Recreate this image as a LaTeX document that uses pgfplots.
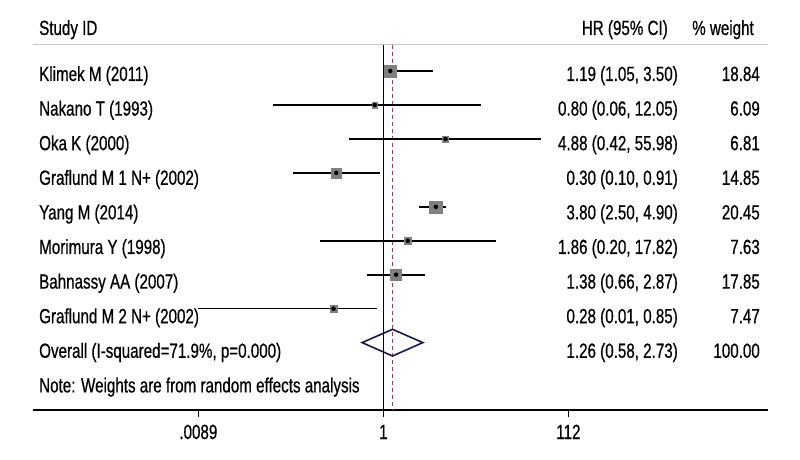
\documentclass[border=0pt]{standalone}
\usepackage{pgfplots}
\pgfplotsset{compat=1.18}
\usepackage{fontspec}
\setmainfont{Liberation Sans}[FakeStretch=0.74, FakeBold=0.6]
\definecolor{boxgray}{RGB}{128,128,128}
\definecolor{refred}{RGB}{150,65,85}
\definecolor{navy}{RGB}{20,25,80}
\definecolor{hdrgray}{RGB}{200,200,200}
\begin{document}
\fontsize{20.5pt}{24pt}\selectfont
\begin{tikzpicture}[x=1pt,y=1pt]
\useasboundingbox (0,0) rectangle (800,460);
\begin{axis}[
  at={(33pt,50pt)}, anchor=south west,
  scale only axis, width=735pt, height=365pt,
  xmode=log, xmin=1.31e-4, xmax=18215,
  ymin=45, ymax=410, y dir=reverse,
  axis x line=bottom, axis y line=none,
  axis line style={line width=1.8pt, -},
  xtick={0.0089,1,112}, xticklabels={.0089,1,112},
  xtick align=outside, major tick length=7pt,
  tick style={line width=1.4pt, black},
  xticklabel style={anchor=base, yshift=-22pt},
  ytick=\empty,
  clip=false,
  /pgf/number format/assume math mode=true,
]
% header rule
\addplot[hdrgray, line width=1pt] coordinates {(1.31e-4,45) (18215,45)};
% null line and overall line
\addplot[black, line width=1.4pt] coordinates {(1,45) (1,410)};
\addplot[refred, line width=1pt, dash pattern=on 4pt off 3pt] coordinates {(1.26,45) (1.26,410)};
% confidence intervals
\addplot[black, line width=1.6pt, unbounded coords=jump] coordinates {
(1.05,71) (3.50,71)
(nan,nan)
(0.06,104.95) (12.05,104.95)
(nan,nan)
(0.42,138.9) (55.98,138.9)
(nan,nan)
(0.10,172.85) (0.91,172.85)
(nan,nan)
(2.50,206.8) (4.90,206.8)
(nan,nan)
(0.20,240.75) (17.82,240.75)
(nan,nan)
(0.66,274.7) (2.87,274.7)
(nan,nan)
(0.0089,308.65) (0.85,308.65)
};
% weight boxes
\addplot[only marks, mark=square*, mark size=5.9, color=boxgray, mark options={draw=none, fill=boxgray}] coordinates {(1.19,71)};
\addplot[only marks, mark=square*, mark size=2.9, color=boxgray, mark options={draw=none, fill=boxgray}] coordinates {(0.80,104.95)};
\addplot[only marks, mark=square*, mark size=3.1, color=boxgray, mark options={draw=none, fill=boxgray}] coordinates {(4.88,138.9)};
\addplot[only marks, mark=square*, mark size=5.1, color=boxgray, mark options={draw=none, fill=boxgray}] coordinates {(0.30,172.85)};
\addplot[only marks, mark=square*, mark size=6.1, color=boxgray, mark options={draw=none, fill=boxgray}] coordinates {(3.80,206.8)};
\addplot[only marks, mark=square*, mark size=3.7, color=boxgray, mark options={draw=none, fill=boxgray}] coordinates {(1.86,240.75)};
\addplot[only marks, mark=square*, mark size=5.6, color=boxgray, mark options={draw=none, fill=boxgray}] coordinates {(1.38,274.7)};
\addplot[only marks, mark=square*, mark size=3.6, color=boxgray, mark options={draw=none, fill=boxgray}] coordinates {(0.28,308.65)};
% point estimates
\addplot[only marks, mark=*, mark size=2, black] coordinates {
(1.19,71) (0.80,104.95) (4.88,138.9) (0.30,172.85) (3.80,206.8) (1.86,240.75) (1.38,274.7) (0.28,308.65)};
% overall diamond
\addplot[navy, line width=1.6pt, line join=miter] coordinates {
(0.58,342.6) (1.26,329.3) (2.73,342.6) (1.26,356) (0.58,342.6) (1.26,329.3)};
\end{axis}
% text columns
\node[anchor=base west, inner sep=0] at (39,425) {Study ID};
\node[anchor=base east, inner sep=0] at (668,425) {HR (95\% CI)};
\node[anchor=base east, inner sep=0] at (754,425) {\% weight};
\foreach \y/\a/\b/\c in {
379/{Klimek M (2011)}/{1.19 (1.05, 3.50)}/18.84,
344.4/{Nakano T (1993)}/{0.80 (0.06, 12.05)}/6.09,
309.8/{Oka K (2000)}/{4.88 (0.42, 55.98)}/6.81,
275.2/{Graflund M 1 N+ (2002)}/{0.30 (0.10, 0.91)}/14.85,
240.6/{Yang M (2014)}/{3.80 (2.50, 4.90)}/20.45,
206/{Morimura Y (1998)}/{1.86 (0.20, 17.82)}/7.63,
171.4/{Bahnassy AA (2007)}/{1.38 (0.66, 2.87)}/17.85,
136.8/{Graflund M 2 N+ (2002)}/{0.28 (0.01, 0.85)}/7.47,
102.2/{Overall (I-squared=71.9\%, p=0.000)}/{1.26 (0.58, 2.73)}/100.00}{
  \node[anchor=base west, inner sep=0] at (39,\y) {\a};
  \node[anchor=base east, inner sep=0] at (678,\y) {\b};
  \node[anchor=base east, inner sep=0] at (760,\y) {\c};
}
\node[anchor=base west, inner sep=0] at (39,67.6) {Note: Weights are from random effects analysis};
\end{tikzpicture}
\end{document}
